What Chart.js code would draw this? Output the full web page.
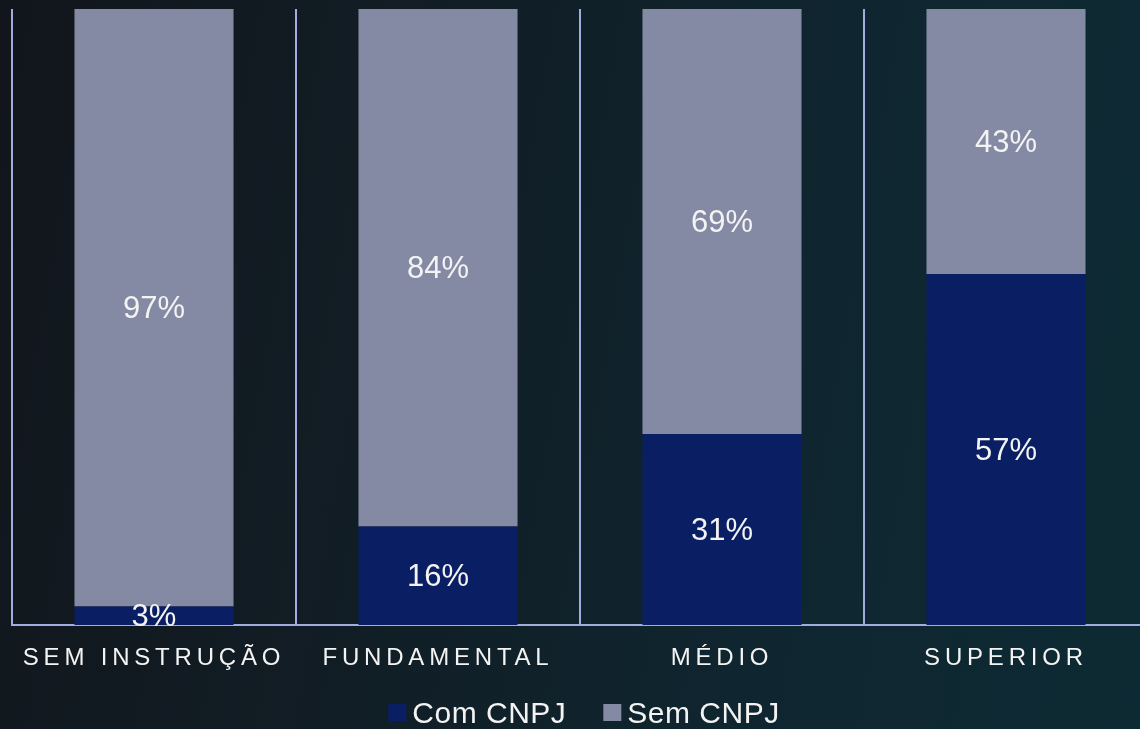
<!DOCTYPE html>
<html lang="pt-BR">
<head>
<meta charset="utf-8">
<title>Com CNPJ x Sem CNPJ por escolaridade</title>
<script src="https://cdn.jsdelivr.net/npm/chart.js@4.4.1/dist/chart.umd.min.js"></script>
<style>
  html, body {
    margin: 0;
    padding: 0;
    width: 1140px;
    height: 729px;
    overflow: hidden;
    background: linear-gradient(100deg, #12161c 0%, #111d25 35%, #0f2630 70%, #0d2a33 100%);
  }
  #wrap {
    position: relative;
    width: 1148px;
    height: 729px;
  }
</style>
</head>
<body>
<div id="wrap"><canvas id="chart"></canvas></div>
<script>
/* ---- Data ---------------------------------------------------------------- */

const categories = ["SEM INSTRUÇÃO", "FUNDAMENTAL", "MÉDIO", "SUPERIOR"];
const seriesLabels = ["Com CNPJ", "Sem CNPJ"];
const comCnpj = [3, 16, 31, 57];
const semCnpj = [97, 84, 69, 43];

/* ---- Theme --------------------------------------------------------------- */

const COLORS = {
  com: "#0a1f63",
  sem: "#858aa4",
  grid: "#a3acdf",
  text: "#f3f3f3",
};
const FONT = "'Liberation Sans', Arial, sans-serif";

/* ---- Plugins: value labels, spaced category labels, legend ---------------- */

const valueLabels = {
  id: "valueLabels",
  afterDatasetsDraw(chart) {
    const ctx = chart.ctx;
    ctx.save();
    ctx.letterSpacing = "0px";
    ctx.font = `31px ${FONT}`;
    ctx.fillStyle = COLORS.text;
    ctx.textAlign = "center";
    ctx.textBaseline = "middle";
    chart.data.datasets.forEach((ds, di) => {
      const meta = chart.getDatasetMeta(di);
      meta.data.forEach((bar, i) => {
        const cy = (bar.y + bar.base) / 2;
        ctx.fillText(`${ds.data[i]}%`, bar.x, cy + 2);
      });
    });
    ctx.restore();
  },
};

const categoryLabels = {
  id: "categoryLabels",
  afterDraw(chart) {
    const ctx = chart.ctx;
    const x = chart.scales.x;
    ctx.save();
    ctx.font = `24px ${FONT}`;
    ctx.letterSpacing = "4.8px";
    ctx.fillStyle = COLORS.text;
    ctx.textAlign = "center";
    ctx.textBaseline = "middle";
    chart.data.labels.forEach((label, i) => {
      ctx.fillText(label, x.getPixelForTick(i), chart.chartArea.bottom + 33);
    });
    ctx.restore();
  },
};

const bottomLegend = {
  id: "bottomLegend",
  afterDraw(chart) {
    const ctx = chart.ctx;
    const box = 18;
    const gapText = 6;
    const gapItem = 37;
    ctx.save();
    ctx.font = `30px ${FONT}`;
    ctx.letterSpacing = "0.5px";
    const items = chart.data.datasets.map((ds) => ({
      label: ds.label,
      color: ds.backgroundColor,
      w: ctx.measureText(ds.label).width,
    }));
    const total = items.reduce((s, it) => s + box + gapText + it.w, 0) + gapItem * (items.length - 1);
    const area = chart.chartArea;
    let x = (area.left + area.right) / 2 - total / 2 + 4;
    const cy = 714;
    ctx.textBaseline = "middle";
    ctx.textAlign = "left";
    items.forEach((it) => {
      ctx.fillStyle = it.color;
      ctx.fillRect(x, cy - 10, box, 17);
      x += box + gapText;
      ctx.fillStyle = COLORS.text;
      ctx.fillText(it.label, x, cy + 1);
      x += it.w + gapItem;
    });
    ctx.restore();
  },
};

/* ---- Chart ---------------------------------------------------------------- */

new Chart(document.getElementById("chart").getContext("2d"), {
  type: "bar",
  data: {
    labels: categories,
    datasets: [
      {
        label: seriesLabels[0],
        data: comCnpj,
        backgroundColor: COLORS.com,
        borderWidth: 0,
      },
      {
        label: seriesLabels[1],
        data: semCnpj,
        backgroundColor: COLORS.sem,
        borderWidth: 0,
      },
    ],
  },
  options: {
    responsive: true,
    maintainAspectRatio: false,
    animation: false,
    datasets: {
      bar: { categoryPercentage: 1, barPercentage: 0.56 },
    },
    layout: { padding: { top: 9, left: 12, right: 0, bottom: 104 } },
    plugins: {
      legend: { display: false },
      tooltip: { enabled: false },
    },
    scales: {
      x: {
        stacked: true,
        grid: {
          display: true,
          color: COLORS.grid,
          lineWidth: 2,
          drawTicks: false,
          offset: true,
        },
        border: { display: true, color: COLORS.grid, width: 2 },
        ticks: { display: false },
      },
      y: {
        stacked: true,
        display: false,
        min: 0,
        max: 100,
      },
    },
  },
  plugins: [valueLabels, categoryLabels, bottomLegend],
});
</script>
</body>
</html>
